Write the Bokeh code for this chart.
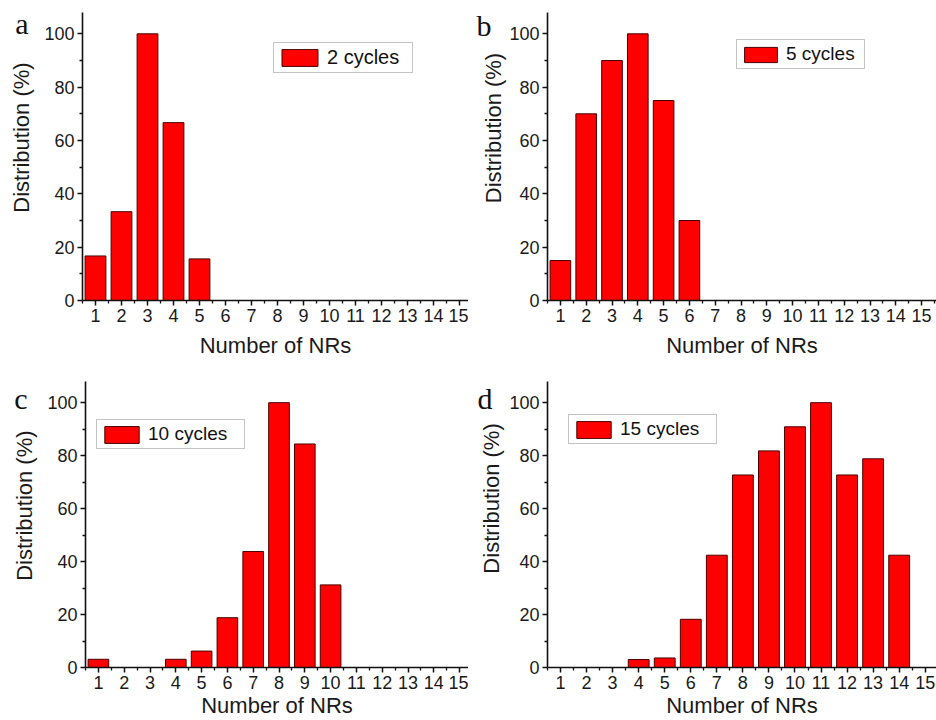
from bokeh.plotting import figure
from bokeh.layouts import column, row
from bokeh.models import (FixedTicker, Legend, LegendItem, ColumnDataSource,
                          Range1d, LinearAxis)
from bokeh.embed import file_html
from bokeh.resources import INLINE

# ---------------- data ----------------
nrs = list(range(1, 16))
dist_2_cycles = [16.7, 33.3, 100, 66.7, 15.6, 0, 0, 0, 0, 0, 0, 0, 0, 0, 0]
dist_5_cycles = [15, 70, 90, 100, 75, 30, 0, 0, 0, 0, 0, 0, 0, 0, 0]
dist_10_cycles = [3.1, 0, 0, 3.1, 6.2, 18.8, 43.8, 100, 84.4, 31.2, 0, 0, 0, 0, 0]
dist_15_cycles = [0, 0, 0, 3.0, 3.6, 18.2, 42.4, 72.7, 81.8, 90.9, 100, 72.7, 78.8, 42.4, 0]
legend_labels = ["2 cycles", "5 cycles", "10 cycles", "15 cycles"]
panel_letters = ["a", "b", "c", "d"]
x_ticks = nrs
x_minor = [n + 0.5 for n in range(0, 16)]
y_ticks = [0, 20, 40, 60, 80, 100]
y_minor = [10, 30, 50, 70, 90]
x_title = "Number of NRs"
y_title = "Distribution (%)"
Y_MAX = 108

SANS = "Liberation Sans"
SERIF = "Liberation Serif"
RED = "#ff0000"
EDGE = "#4a0000"
INK = "#1a1a1a"


def hidden_axis(**kw):
    return LinearAxis(axis_line_color=None,
                      major_tick_line_color=None, minor_tick_line_color=None,
                      major_tick_in=0, major_tick_out=0, minor_tick_in=0,
                      minor_tick_out=0, **kw)


def make_panel(values, label, letter, width, height, bl, bt, bb, unit_px,
               x_label_standoff, leg_xy, leg_glyph, leg_label_w, leg_font,
               letter_y_px, letter_standoff, title_y_px, title_standoff):
    frame_w = width - bl
    frame_h = height - bt - bb
    x_end = 0.5 + frame_w / unit_px
    p = figure(width=width, height=height, output_backend="svg",
               toolbar_location=None, x_range=Range1d(0.5, x_end),
               y_range=Range1d(0, Y_MAX),
               min_border_left=bl, min_border_right=0,
               min_border_top=bt, min_border_bottom=bb)
    p.outline_line_color = None
    p.xgrid.visible = False
    p.ygrid.visible = False
    p.background_fill_color = "white"
    p.border_fill_color = "white"

    xs = [n for n, v in zip(nrs, values) if v > 0]
    vs = [v for v in values if v > 0]
    src = ColumnDataSource(dict(x=xs, top=vs))
    r = p.vbar(x="x", top="top", width=0.8, bottom=0, source=src,
               fill_color=RED, line_color=EDGE, line_width=1)

    for ax in (p.xaxis[0], p.yaxis[0]):
        ax.axis_line_width = 1.6
        ax.axis_line_color = "#111111"
        ax.major_tick_line_width = 1.5
        ax.minor_tick_line_width = 1.3
        ax.major_tick_line_color = "#111111"
        ax.minor_tick_line_color = "#111111"
        ax.major_tick_in = 0
        ax.minor_tick_in = 0
        ax.major_tick_out = 5
        ax.minor_tick_out = 3
        ax.major_label_text_font = SANS
        ax.major_label_text_color = INK
        ax.axis_label_text_font = SANS
        ax.axis_label_text_font_style = "normal"
        ax.axis_label_text_color = INK

    p.xaxis.ticker = FixedTicker(ticks=x_ticks, minor_ticks=x_minor)
    p.yaxis.ticker = FixedTicker(ticks=y_ticks, minor_ticks=y_minor)
    p.xaxis.major_label_text_font_size = "18px"
    p.yaxis.major_label_text_font_size = "18px"
    p.xaxis.axis_label = x_title
    p.xaxis.axis_label_text_font_size = "22px"
    p.xaxis.major_label_standoff = 3
    p.xaxis.axis_label_standoff = x_label_standoff
    p.yaxis.major_label_standoff = 3

    # y title: vertical tick label of a hidden second left axis
    t_mid = round(title_y_px * Y_MAX / frame_h, 3)
    ax_t = hidden_axis(ticker=FixedTicker(ticks=[t_mid], minor_ticks=[]),
                       major_label_overrides={t_mid: y_title},
                       major_label_orientation="vertical",
                       major_label_standoff=title_standoff,
                       major_label_text_font=SANS,
                       major_label_text_font_size="22px",
                       major_label_text_color=INK)
    p.add_layout(ax_t, "left")

    # panel letter on a hidden third left axis
    l_mid = round(letter_y_px * Y_MAX / frame_h, 3)
    ax_l = hidden_axis(ticker=FixedTicker(ticks=[l_mid], minor_ticks=[]),
                       major_label_overrides={l_mid: letter},
                       major_label_standoff=letter_standoff,
                       major_label_text_font=SERIF,
                       major_label_text_font_size="30px",
                       major_label_text_color="#111111")
    p.add_layout(ax_l, "left")

    leg = Legend(items=[LegendItem(label=label, renderers=[r])],
                 location=leg_xy, margin=0, padding=3, spacing=0,
                 glyph_width=leg_glyph[0], glyph_height=leg_glyph[1],
                 label_width=leg_label_w, label_height=leg_glyph[1],
                 label_standoff=5, label_text_font=SANS,
                 label_text_font_size=leg_font,
                 label_text_color="#111111",
                 border_line_color="#8a8a8a", border_line_width=1,
                 background_fill_color="white", background_fill_alpha=1)
    p.add_layout(leg)
    return p


pa = make_panel(dist_2_cycles, legend_labels[0], panel_letters[0],
                468, 360, 82, 12, 59, 26.0, 8,
                (191, 227), (45, 21), 82, "20px", 277.5, -22, 163.5, 7)
pb = make_panel(dist_5_cycles, legend_labels[1], panel_letters[1],
                468, 360, 79, 12, 60, 25.8, 8,
                (189, 231), (41, 19), 75, "19px", 274.8, -13, 172.5, 0)
pc = make_panel(dist_10_cycles, legend_labels[2], panel_letters[2],
                468, 360, 85, 20, 52, 25.8, 1,
                (11, 218), (43, 21), 93, "19px", 270.8, -18, 163, 7)
pd = make_panel(dist_15_cycles, legend_labels[3], panel_letters[3],
                468, 360, 79, 21, 50, 26.05, 1,
                (21, 223), (43, 21), 93, "19px", 271.8, -16, 170.8, 2)

layout = column(row(pa, pb), row(pc, pd))

open("out.html", "w").write(file_html(layout, INLINE))
